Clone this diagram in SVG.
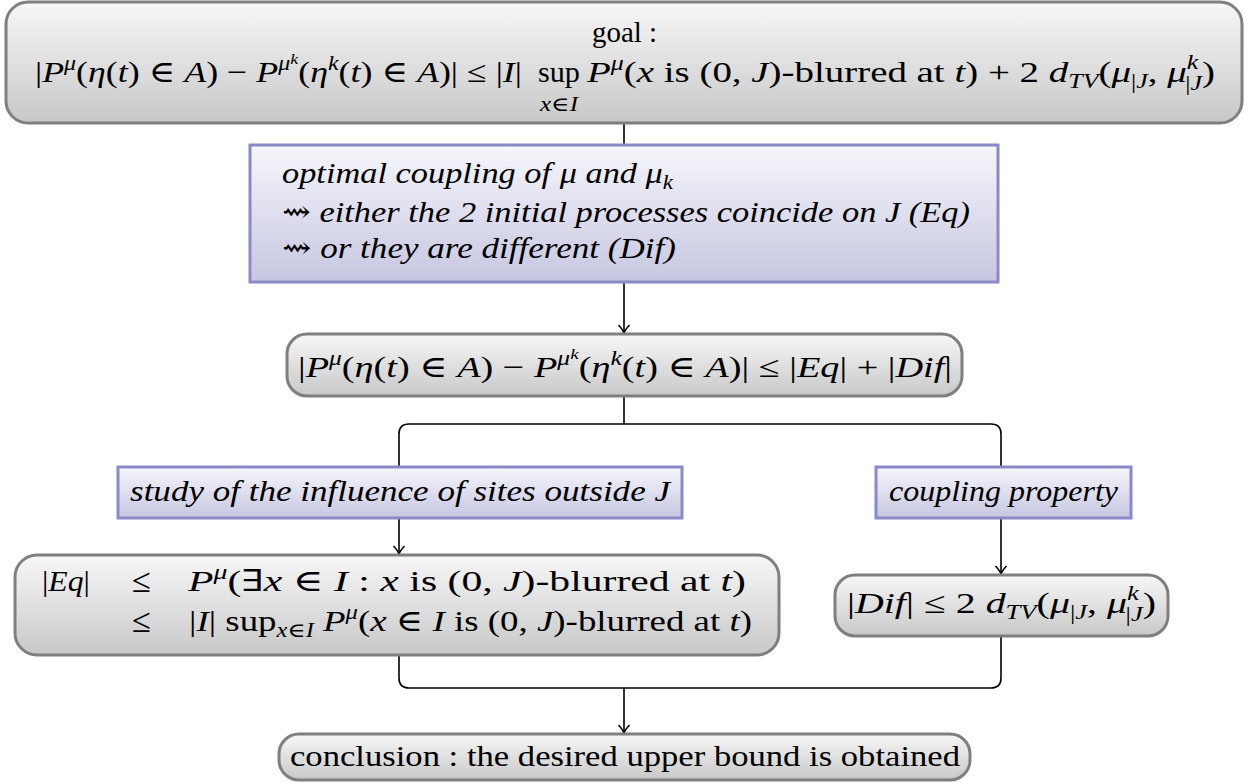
<svg xmlns="http://www.w3.org/2000/svg" width="1247" height="784" viewBox="0 0 1247 784">
<defs>
<linearGradient id="gg" x1="0" y1="0" x2="0" y2="1"><stop offset="0" stop-color="#f7f7f7"/><stop offset="1" stop-color="#c8c8c8"/></linearGradient>
<linearGradient id="gb" x1="0" y1="0" x2="0" y2="1"><stop offset="0" stop-color="#f6f6fb"/><stop offset="1" stop-color="#c6c6e1"/></linearGradient>
<marker id="arr" markerUnits="userSpaceOnUse" markerWidth="14" markerHeight="14" viewBox="-10 -7 12 14" refX="0" refY="0" orient="auto"><path d="M-8,-5.5 Q-3,-1 0,0 Q-3,1 -8,5.5" fill="none" stroke="#000" stroke-width="1.5"/></marker>
<style>
text{font-family:"Liberation Serif","DejaVu Serif",serif;font-size:30px;fill:#000}
.i{font-style:italic}
.it{font-style:italic}
.s{font-size:20px}
.ss{font-size:15px}
.le{font-size:34px}
.g{fill:url(#gg);stroke:#7f7f7f;stroke-width:3}
.b{fill:url(#gb);stroke:#8a8ac6;stroke-width:3}
.c{fill:none;stroke:#000;stroke-width:1.6}
.sq{font-style:normal;font-family:"DejaVu Serif",serif;font-weight:normal}
</style>
</defs>
<g id="connectors">
<path class="c" d="M624,123 V145"/>
<path class="c" d="M624,282 V333" marker-end="url(#arr)"/>
<path class="c" d="M624,396 V424"/>
<path class="c" d="M399,467 V434 Q399,424 409,424 H991 Q1001,424 1001,434 V467"/>
<path class="c" d="M399,518 V554" marker-end="url(#arr)"/>
<path class="c" d="M1001,518 V574" marker-end="url(#arr)"/>
<path class="c" d="M399,655 V678 Q399,688 409,688 H991 Q1001,688 1001,678 V636"/>
<path class="c" d="M624,688 V733" marker-end="url(#arr)"/>
</g>
<g id="goal">
<rect class="g" x="6" y="2" width="1236" height="121" rx="22"/>
<text x="592" y="42" textLength="65" lengthAdjust="spacingAndGlyphs">goal :</text>
<text x="35" y="82" textLength="487" lengthAdjust="spacingAndGlyphs">|<tspan class="i">P</tspan><tspan class="i s" dy="-12">μ</tspan><tspan dy="12">(</tspan><tspan class="i">η</tspan>(<tspan class="i">t</tspan>) ∈ <tspan class="i">A</tspan>) − <tspan class="i">P</tspan><tspan class="i s" dy="-12">μ</tspan><tspan class="i ss" dy="-6">k</tspan><tspan dy="18">(</tspan><tspan class="i">η</tspan><tspan class="i s" dy="-12">k</tspan><tspan dy="12">(</tspan><tspan class="i">t</tspan>) ∈ <tspan class="i">A</tspan>)| ≤ |<tspan class="i">I</tspan>|</text>
<text x="538" y="82" textLength="42" lengthAdjust="spacingAndGlyphs">sup</text>
<text x="540" y="111" class="s" textLength="38" lengthAdjust="spacingAndGlyphs"><tspan class="i">x</tspan>∈<tspan class="i">I</tspan></text>
<text x="587" y="82" textLength="628" lengthAdjust="spacingAndGlyphs"><tspan class="i">P</tspan><tspan class="i s" dy="-12">μ</tspan><tspan dy="12">(</tspan><tspan class="i">x</tspan> is (0, <tspan class="i">J</tspan>)-blurred at <tspan class="i">t</tspan>) + 2 <tspan class="i">d</tspan><tspan class="i s" dy="6">TV</tspan><tspan dy="-6">(</tspan><tspan class="i">μ</tspan><tspan class="s" dy="6">|<tspan class="i">J</tspan></tspan><tspan dy="-6">, </tspan><tspan class="i">μ</tspan><tspan class="i s" dy="-13">k</tspan><tspan class="s" dx="-10" dy="21">|<tspan class="i">J</tspan></tspan><tspan dy="-8">)</tspan></text>
</g>
<g id="coupling">
<rect class="b" x="250" y="145" width="748" height="137"/>
<text class="it" x="282" y="183" textLength="391" lengthAdjust="spacingAndGlyphs">optimal coupling of μ and μ<tspan class="s" dy="6">k</tspan></text>
<text class="it" x="282" y="222" textLength="688" lengthAdjust="spacingAndGlyphs"><tspan class="sq">⇝</tspan> either the 2 initial processes coincide on J (Eq)</text>
<text class="it" x="282" y="258" textLength="394" lengthAdjust="spacingAndGlyphs"><tspan class="sq">⇝</tspan> or they are different (Dif)</text>
</g>
<g id="split">
<rect class="g" x="287" y="334" width="675" height="62" rx="20"/>
<text x="298" y="377" textLength="654" lengthAdjust="spacingAndGlyphs">|<tspan class="i">P</tspan><tspan class="i s" dy="-12">μ</tspan><tspan dy="12">(</tspan><tspan class="i">η</tspan>(<tspan class="i">t</tspan>) ∈ <tspan class="i">A</tspan>) − <tspan class="i">P</tspan><tspan class="i s" dy="-12">μ</tspan><tspan class="i ss" dy="-6">k</tspan><tspan dy="18">(</tspan><tspan class="i">η</tspan><tspan class="i s" dy="-12">k</tspan><tspan dy="12">(</tspan><tspan class="i">t</tspan>) ∈ <tspan class="i">A</tspan>)| ≤ |<tspan class="i">Eq</tspan>| + |<tspan class="i">Dif</tspan>|</text>
</g>
<g id="study">
<rect class="b" x="118" y="467" width="564" height="51"/>
<text class="it" x="130" y="501" textLength="540" lengthAdjust="spacingAndGlyphs">study of the influence of sites outside J</text>
</g>
<g id="property">
<rect class="b" x="876" y="467" width="255" height="51"/>
<text class="it" x="889" y="501" textLength="229" lengthAdjust="spacingAndGlyphs">coupling property</text>
</g>
<g id="eq">
<rect class="g" x="15" y="555" width="764" height="100" rx="22"/>
<text x="42" y="591" textLength="48" lengthAdjust="spacingAndGlyphs">|<tspan class="i">Eq</tspan>|</text>
<text class="le" x="132" y="592" textLength="19" lengthAdjust="spacingAndGlyphs">≤</text>
<text class="le" x="132" y="632" textLength="19" lengthAdjust="spacingAndGlyphs">≤</text>
<text x="188" y="591" textLength="558" lengthAdjust="spacingAndGlyphs"><tspan class="i">P</tspan><tspan class="i s" dy="-12">μ</tspan><tspan dy="12">(∃</tspan><tspan class="i">x</tspan> ∈ <tspan class="i">I</tspan> : <tspan class="i">x</tspan> is (0, <tspan class="i">J</tspan>)-blurred at <tspan class="i">t</tspan>)</text>
<text x="189" y="631" textLength="563" lengthAdjust="spacingAndGlyphs">|<tspan class="i">I</tspan>| sup<tspan class="s" dy="6"><tspan class="i">x</tspan>∈<tspan class="i">I</tspan></tspan><tspan dy="-6"> </tspan><tspan class="i">P</tspan><tspan class="i s" dy="-12">μ</tspan><tspan dy="12">(</tspan><tspan class="i">x</tspan> ∈ <tspan class="i">I</tspan> is (0, <tspan class="i">J</tspan>)-blurred at <tspan class="i">t</tspan>)</text>
</g>
<g id="dif">
<rect class="g" x="835" y="575" width="333" height="61" rx="20"/>
<text x="847" y="613" textLength="309" lengthAdjust="spacingAndGlyphs">|<tspan class="i">Dif</tspan>| ≤ 2 <tspan class="i">d</tspan><tspan class="i s" dy="6">TV</tspan><tspan dy="-6">(</tspan><tspan class="i">μ</tspan><tspan class="s" dy="6">|<tspan class="i">J</tspan></tspan><tspan dy="-6">, </tspan><tspan class="i">μ</tspan><tspan class="i s" dy="-13">k</tspan><tspan class="s" dx="-10" dy="21">|<tspan class="i">J</tspan></tspan><tspan dy="-8">)</tspan></text>
</g>
<g id="conclusion">
<rect class="g" x="279" y="734" width="691" height="46" rx="20"/>
<text x="290" y="766" textLength="670" lengthAdjust="spacingAndGlyphs">conclusion : the desired upper bound is obtained</text>
</g>
</svg>
